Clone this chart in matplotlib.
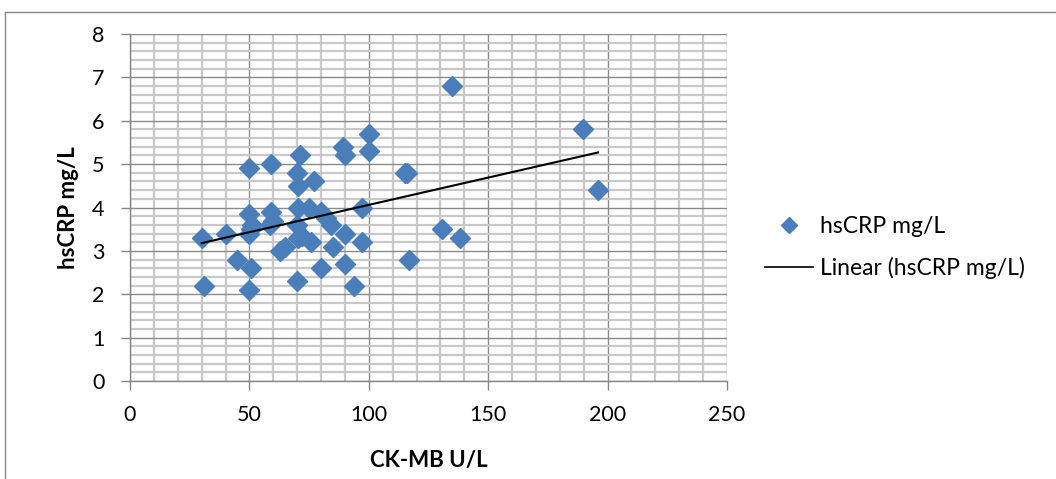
import matplotlib
matplotlib.use("Agg")
import matplotlib.pyplot as plt
import numpy as np
from matplotlib.lines import Line2D

plt.rcParams['font.family'] = ['Lato', 'DejaVu Sans']

ckmb = [30, 31, 40, 45, 50, 50, 50, 50.5, 51, 50.5, 50,
        59, 59, 58.6, 60, 63, 65,
        71, 70, 70.5, 70.5, 70, 70.5, 70, 72,
        75, 77, 76, 80, 82, 84, 85, 80,
        89, 90, 90, 90, 94, 97, 97, 100, 100,
        115, 116, 117, 130.5, 135, 138, 189.5, 196]
hscrp = [3.3, 2.2, 3.4, 2.8, 4.9, 3.85, 3.4, 2.6, 3.6, 3.5, 2.1,
         5.0, 3.9, 3.6, 3.7, 3.0, 3.1,
         5.2, 4.8, 4.5, 4.0, 3.6, 3.3, 2.3, 3.35,
         4.0, 4.6, 3.2, 3.9, 3.75, 3.6, 3.1, 2.6,
         5.4, 5.2, 3.4, 2.7, 2.2, 4.0, 3.2, 5.7, 5.3,
         4.8, 4.8, 2.8, 3.5, 6.8, 3.3, 5.8, 4.4]

series_label = "hsCRP mg/L"
trend_label = "Linear (hsCRP mg/L)"
x_label = "CK-MB U/L"
y_label = "hsCRP mg/L"

blue = "#4A7EBB"

fig = plt.figure(figsize=(10.56, 4.79), dpi=100)
ax = fig.add_axes([130/1056, 1-381/479, (727-130)/1056, (381-34)/479])

ax.set_xlim(0, 250)
ax.set_ylim(0, 8)
ax.set_xticks(np.arange(0, 251, 50))
ax.set_yticks(np.arange(0, 9, 1))
ax.set_xticks(np.arange(0, 251, 10), minor=True)
ax.set_yticks(np.arange(0, 8.01, 0.2), minor=True)
ax.grid(which='minor', color='#c8c8c8', linewidth=1.6, zorder=0)
ax.grid(which='major', color='#8a8a8a', linewidth=1.0, zorder=0.5)
ax.set_axisbelow(True)

for s in ['top', 'right']:
    ax.spines[s].set_visible(False)
for s in ['left', 'bottom']:
    ax.spines[s].set_color('#868686')
    ax.spines[s].set_linewidth(1.0)
ax.tick_params(which='major', length=6.5, color='#868686', width=1.0,
               labelsize=15.5, labelcolor='black')
ax.tick_params(axis='y', pad=12)
ax.tick_params(axis='x', pad=11)
ax.tick_params(which='minor', length=0)

ax.plot(ckmb, hscrp, linestyle='none', marker='D', markersize=10,
        markerfacecolor=blue, markeredgecolor=blue, zorder=3)

coef = np.polyfit(ckmb, hscrp, 1)
xs = np.array([min(ckmb), max(ckmb)])
ax.plot(xs, np.polyval(coef, xs), color='black', linewidth=1.5, zorder=4)

ax.set_xlabel(x_label, fontsize=16, fontweight='bold', labelpad=18)
ax.set_ylabel(y_label, fontsize=16, fontweight='bold', labelpad=9)

handles = [Line2D([], [], linestyle='none', marker='D', markersize=8.5,
                  markerfacecolor=blue, markeredgecolor=blue),
           Line2D([], [], color='black', linewidth=1.2)]
fig.legend(handles, [series_label, trend_label], loc='center left',
           bbox_to_anchor=(765/1056, 1-247.5/479), frameon=False, fontsize=16.5,
           borderaxespad=0, borderpad=0,
           handlelength=2.1, handletextpad=0.3, labelspacing=0.85)

fig.add_artist(Line2D([5/1056, 5/1056], [0, 1-12/479], color='#888888',
                      linewidth=1.0, transform=fig.transFigure))
fig.add_artist(Line2D([5/1056, 1], [1-12/479, 1-12/479], color='#888888',
                      linewidth=1.0, transform=fig.transFigure))

fig.savefig("out.png", dpi=100)
